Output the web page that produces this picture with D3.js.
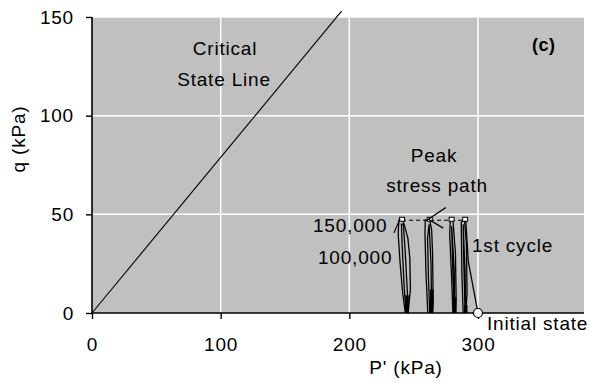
<!DOCTYPE html>
<html>
<head>
<meta charset="utf-8">
<script src="https://cdn.jsdelivr.net/npm/d3@7"></script>
<style>
  body { margin: 0; background: #fff; }
  svg { display: block; }
  text { font-family: "Liberation Sans", Arial, sans-serif; font-size: 19px; letter-spacing: 0.8px; fill: #000; }
</style>
</head>
<body>
<svg id="chart" width="601" height="383"></svg>
<script>
// Axis ticks
const xTicks = [0, 100, 200, 300];
const yTicks = [0, 50, 100, 150];

// Critical state line q = M p
const cslP = [0, 194];
const cslQ = [0, 153];

// First loading cycle starting from the initial state
const firstCycleP = [300, 292.5, 290.5];
const firstCycleQ = [0, 26, 47];

// Cyclic loops, from late cycles (150,000) back to early ones
const loopAP = [243.5, 241.5, 239.5, 238, 238.5, 241.5, 243, 245.5, 247, 247.5, 246, 245];
const loopAQ = [0, 10, 25, 40, 47, 47, 44, 38, 28, 12, 2, 0];
const loopAInnerP = [244, 242.5, 241, 240.5, 242, 243.5, 245, 246];
const loopAInnerQ = [0, 15, 35, 45, 45, 30, 12, 0];

const loopBP = [261, 259.6, 258.8, 259, 262.5, 264, 264.7, 265.2, 264.5];
const loopBQ = [0, 20, 40, 47, 47, 42, 30, 5, 0];
const loopBInnerP = [262.5, 261.5, 260.8, 262, 263.5, 264];
const loopBInnerQ = [0, 18, 38, 45, 25, 0];

const loopCP = [280.5, 279.5, 278, 278.5, 280.5, 282.5, 283, 282.5];
const loopCQ = [0, 18, 40, 47, 47, 30, 8, 0];
const loopCInnerP = [281.5, 280.5, 279.5, 281.5, 282];
const loopCInnerQ = [0, 20, 44, 22, 0];

const loopDP = [288.5, 287.5, 287, 289.5, 291, 291.5, 290.5];
const loopDQ = [0, 20, 46, 47, 35, 10, 0];
const loopDInnerP = [290, 289, 288.5, 290, 290.5];
const loopDInnerQ = [0, 25, 45, 20, 0];

// Overlapping strokes near q = 0 at each loop
const loopBaseP = [244.8, 264, 282, 290.5];
const loopBaseQ = [9, 12, 8, 4];

// Peak stress path joining the loop tops
const peakP = [241, 262.5, 279.5, 290];
const peakQ = [47, 47, 47, 47];

// Arrow from the "Peak stress path" note
const arrowP = [275, 261.5, 273];
const arrowQ = [53.5, 47.5, 43];

// Leader from the 150,000 label
const leaderP = [234.7, 239.4];
const leaderQ = [40.6, 47.7];

const initialP = 300, initialQ = 0;

const svg = d3.select("#chart");
const x = d3.scaleLinear().domain([0, 382.4]).range([92, 584]);
const y = d3.scaleLinear().domain([0, 150]).range([313, 17]);

const zip = (ps, qs) => ps.map((p, i) => [p, qs[i]]);
const line = d3.line().x(d => x(d[0])).y(d => y(d[1]));

// Plot area
svg.append("rect")
  .attr("x", x(0)).attr("y", y(150))
  .attr("width", x.range()[1] - x(0)).attr("height", y(0) - y(150))
  .attr("fill", "#c0c0c0");

// Gridlines
svg.append("g").selectAll("line").data(xTicks.filter(d => d > 0)).join("line")
  .attr("x1", d => x(d)).attr("x2", d => x(d))
  .attr("y1", y(150)).attr("y2", y(0))
  .attr("stroke", "#fff").attr("stroke-width", 1.5);
svg.append("g").selectAll("line").data(yTicks.filter(d => d > 0)).join("line")
  .attr("x1", x(0)).attr("x2", x.range()[1])
  .attr("y1", d => y(d)).attr("y2", d => y(d))
  .attr("stroke", "#fff").attr("stroke-width", 1.5);

// Critical state line (runs past the top of the plot)
svg.append("path").attr("d", line(zip(cslP, cslQ)))
  .attr("fill", "none").attr("stroke", "#000").attr("stroke-width", 1.1);

// Peak stress path
svg.append("path").attr("d", line(zip(peakP, peakQ)))
  .attr("fill", "none").attr("stroke", "#000").attr("stroke-width", 1.2)
  .attr("stroke-dasharray", "4,3");

// Loops
const loops = [
  zip(loopAP, loopAQ), zip(loopAInnerP, loopAInnerQ),
  zip(loopBP, loopBQ), zip(loopBInnerP, loopBInnerQ),
  zip(loopCP, loopCQ), zip(loopCInnerP, loopCInnerQ),
  zip(loopDP, loopDQ), zip(loopDInnerP, loopDInnerQ),
  zip(firstCycleP, firstCycleQ)
];
svg.append("g").selectAll("path").data(loops).join("path")
  .attr("d", d => line(d))
  .attr("fill", "none").attr("stroke", "#000").attr("stroke-width", 1.3);

svg.append("g").selectAll("line").data(loopBaseP.map((p, i) => [p, loopBaseQ[i]])).join("line")
  .attr("x1", d => x(d[0])).attr("x2", d => x(d[0]))
  .attr("y1", y(0)).attr("y2", d => y(d[1]))
  .attr("stroke", "#000").attr("stroke-width", 3.5);

// Peak markers
svg.append("g").selectAll("rect").data(zip(peakP, peakQ)).join("rect")
  .attr("x", d => x(d[0]) - 2.5).attr("y", d => y(d[1]) - 3)
  .attr("width", 5).attr("height", 4)
  .attr("fill", "#fff").attr("stroke", "#000").attr("stroke-width", 1);

// Arrow and leader
svg.append("path").attr("d", line(zip(arrowP, arrowQ)))
  .attr("fill", "none").attr("stroke", "#000").attr("stroke-width", 1.3);
svg.append("path").attr("d", line(zip(leaderP, leaderQ)))
  .attr("fill", "none").attr("stroke", "#000").attr("stroke-width", 1.2);

// Axes
const yAxis = d3.axisLeft(y).tickValues(yTicks).tickSize(6).tickSizeOuter(0).tickPadding(12);
const xAxis = d3.axisBottom(x).tickValues(xTicks).tickSize(6).tickSizeOuter(0).tickPadding(19);

const gy = svg.append("g").attr("transform", `translate(${x(0)},0)`).call(yAxis);
const gx = svg.append("g").attr("transform", `translate(0,${y(0)})`).call(xAxis);
[gx, gy].forEach(g => {
  g.select(".domain").attr("stroke", "#000").attr("stroke-width", 1.6);
  g.selectAll(".tick line").attr("stroke", "#000").attr("stroke-width", 1.4);
  g.selectAll(".tick text").attr("font-family", null).attr("font-size", null).attr("fill", "#000");
});
gx.select(".domain").attr("d", `M${x(0)},0H${x.range()[1]}`);
gy.select(".domain").attr("d", `M0,${y(150)}V${y(0)}`);

// Initial state marker
svg.append("circle").attr("cx", x(initialP)).attr("cy", y(initialQ)).attr("r", 4.5)
  .attr("fill", "#fff").attr("stroke", "#000").attr("stroke-width", 1.2);

// Axis titles
svg.append("text").attr("x", 406).attr("y", 374).attr("text-anchor", "middle").text("P' (kPa)");
svg.append("text").attr("transform", "translate(25,139) rotate(-90)").attr("text-anchor", "middle").text("q (kPa)");

// Annotations
const notes = [
  { t: "Critical", x: 225, y: 55, a: "middle" },
  { t: "State Line", x: 224, y: 86, a: "middle" },
  { t: "Peak", x: 434, y: 162, a: "middle" },
  { t: "stress path", x: 437, y: 192, a: "middle" },
  { t: "150,000", x: 313, y: 232, a: "start" },
  { t: "100,000", x: 318, y: 264, a: "start" },
  { t: "1st cycle", x: 472, y: 252, a: "start" },
  { t: "Initial state", x: 487, y: 330, a: "start" }
];
svg.append("g").selectAll("text").data(notes).join("text")
  .attr("x", d => d.x).attr("y", d => d.y).attr("text-anchor", d => d.a).text(d => d.t);

svg.append("text").attr("x", 532).attr("y", 51).attr("font-weight", "bold")
  .style("font-size", "18px").style("letter-spacing", "0.5px").text("(c)");
</script>
</body>
</html>
